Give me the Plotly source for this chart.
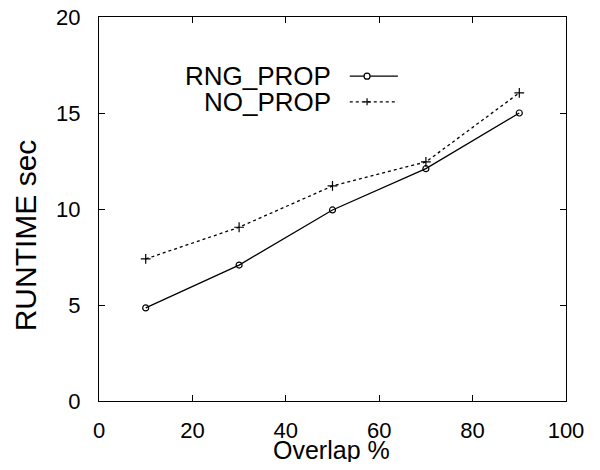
import plotly.graph_objects as go

overlap = [10, 30, 50, 70, 90]
rng_prop = [4.85, 7.08, 9.95, 12.1, 15.0]
no_prop = [7.4, 9.05, 11.2, 12.45, 16.05]
series_names = ["RNG_PROP", "NO_PROP"]
x_ticks = [0, 20, 40, 60, 80, 100]
y_ticks = [0, 5, 10, 15, 20]

FONT = "Liberation Sans, Arial, sans-serif"

fig = go.Figure()
fig.add_trace(go.Scatter(x=overlap, y=rng_prop, mode="lines+markers", name=series_names[0],
                         line=dict(color="black", width=1.3),
                         marker=dict(symbol="circle-open", size=6, color="black", line=dict(width=1.2))))
fig.add_trace(go.Scatter(x=overlap, y=no_prop, mode="lines+markers", name=series_names[1],
                         line=dict(color="black", width=1.3, dash="dot"),
                         marker=dict(symbol="cross-thin-open", size=7, color="black", line=dict(width=1.2))))

axis_common = dict(showgrid=False, zeroline=False, showline=True, linecolor="black", linewidth=1.2,
                   mirror="ticks", ticks="inside", ticklen=6, tickcolor="black",
                   automargin=False, ticklabeloverflow="allow",
                   tickfont=dict(family=FONT, size=22, color="black"))
fig.update_xaxes(range=[0, 100], tickvals=x_ticks, ticklabelstandoff=9, **axis_common)
fig.update_yaxes(range=[0, 20], tickvals=y_ticks, ticklabelstandoff=13, **axis_common)

# axis titles
fig.add_annotation(xref="paper", yref="paper", x=0.497, y=-0.128, text="Overlap %", showarrow=False,
                   xanchor="center", yanchor="middle", borderpad=0,
                   font=dict(family=FONT, size=25, color="black"))
fig.add_annotation(xref="paper", yref="paper", x=-0.158, y=0.432, text="RUNTIME sec", showarrow=False,
                   textangle=-90, xanchor="center", yanchor="middle", font=dict(family=FONT, size=30, color="black"))

# legend drawn as text on the left and a line sample on the right
leg_y = [0.846, 0.779]
dashes = ["solid", "dot"]
for i, name in enumerate(series_names):
    fig.add_annotation(xref="paper", yref="paper", x=0.499, y=leg_y[i], text=name, showarrow=False,
                       xanchor="right", yanchor="middle", borderpad=0,
                       font=dict(family=FONT, size=26, color="black"))
    fig.add_shape(type="line", xref="paper", yref="paper", x0=0.537, x1=0.640, y0=leg_y[i], y1=leg_y[i],
                  line=dict(color="black", width=1.2, dash=dashes[i]))
# legend symbols
mx = 0.574
fig.add_shape(type="circle", xref="paper", yref="paper", xsizemode="pixel", ysizemode="pixel",
              xanchor=mx, yanchor=leg_y[0], x0=-3, x1=3, y0=-3, y1=3,
              line=dict(color="black", width=1.2), fillcolor="white")
fig.add_shape(type="line", xref="paper", yref="paper", xsizemode="pixel", ysizemode="pixel",
              xanchor=mx, yanchor=leg_y[1], x0=-3.5, x1=3.5, y0=0, y1=0, line=dict(color="black", width=1.2))
fig.add_shape(type="line", xref="paper", yref="paper", xsizemode="pixel", ysizemode="pixel",
              xanchor=mx, yanchor=leg_y[1], x0=0, x1=0, y0=-3.5, y1=3.5, line=dict(color="black", width=1.2))

# page body has an 8px default margin; figure sized so the page is exactly 600x470
fig.update_layout(width=584, height=454, margin=dict(l=91, r=26, t=9, b=61),
                  plot_bgcolor="white", paper_bgcolor="white", showlegend=False,
                  font=dict(family=FONT, color="black"))
fig.write_html("out.html")
